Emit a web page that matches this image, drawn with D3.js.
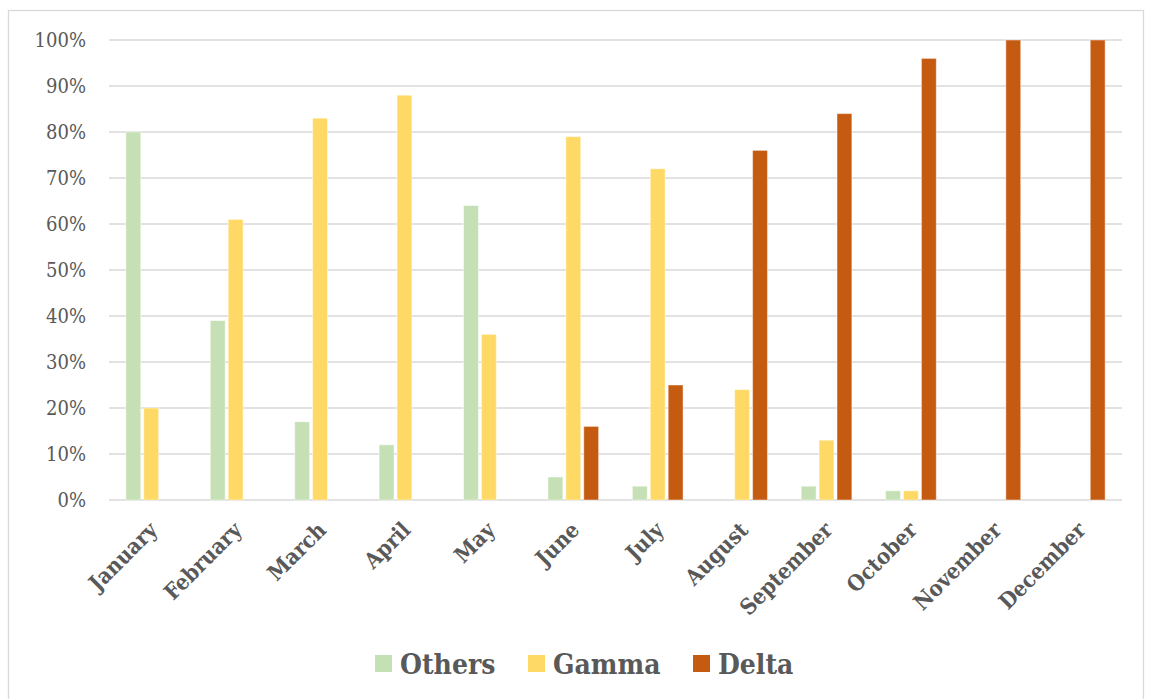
<!DOCTYPE html>
<meta charset="utf-8">
<style>
  body { margin: 0; background: #fff; }
  .grid line { stroke: #d9d9d9; stroke-width: 1.3; }
  .ylab text { font-family: "DejaVu Serif Condensed", "DejaVu Serif", serif; font-size: 20px; fill: #595959; }
  .xlab text { font-family: "DejaVu Serif Condensed", "DejaVu Serif", serif; font-weight: bold; font-size: 22px; fill: #595959; }
  .legend text { font-family: "DejaVu Serif Condensed", "DejaVu Serif", serif; font-weight: bold; font-size: 28px; fill: #595959; }
</style>
<svg width="1149" height="699"></svg>
<script src="https://cdn.jsdelivr.net/npm/d3@7"></script>
<script>
    // data
    var months = ['January', 'February', 'March', 'April', 'May', 'June',
        'July', 'August', 'September', 'October', 'November', 'December'];
    var series = ['Others', 'Gamma', 'Delta'];
    var others = [0.80, 0.39, 0.17, 0.12, 0.64, 0.05, 0.03, 0.00, 0.03, 0.02, 0.00, 0.00];
    var gamma  = [0.20, 0.61, 0.83, 0.88, 0.36, 0.79, 0.72, 0.24, 0.13, 0.02, 0.00, 0.00];
    var delta  = [0.00, 0.00, 0.00, 0.00, 0.00, 0.16, 0.25, 0.76, 0.84, 0.96, 1.00, 1.00];
    var yTicks = [0, 0.1, 0.2, 0.3, 0.4, 0.5, 0.6, 0.7, 0.8, 0.9, 1.0];
    var colors = ['#c5e0b4', '#ffd966', '#c55a11'];

    var svgElem = d3.select('svg');
    var margin = { left: 109, top: 40, right: 27, bottom: 199 };
    var width = +svgElem.attr('width') - margin.left - margin.right;
    var height = +svgElem.attr('height') - margin.top - margin.bottom;

    // outer frame
    svgElem.append('rect')
        .attr('x', 8.5).attr('y', 10.5)
        .attr('width', 1135).attr('height', 700)
        .attr('fill', 'none').attr('stroke', '#d9d9d9').attr('stroke-width', 1.3);

    var g = svgElem.append('g')
        .attr('transform', `translate(${margin.left}, ${margin.top})`);

    var x0 = d3.scaleBand().domain(months).range([0, width]).paddingInner(0.4).paddingOuter(0.2);
    var x1 = d3.scaleBand().domain(series).range([0, x0.bandwidth()]).paddingInner(0.17);
    var y = d3.scaleLinear().domain([0, 1]).range([height, 0]);
    var z = d3.scaleOrdinal().domain(series).range(colors);

    // gridlines
    g.append('g').attr('class', 'grid')
        .selectAll('line').data(yTicks).enter().append('line')
        .attr('x1', 0).attr('x2', width)
        .attr('y1', function (d) { return y(d); })
        .attr('y2', function (d) { return y(d); });

    // y labels
    g.append('g').attr('class', 'ylab')
        .selectAll('text').data(yTicks).enter().append('text')
        .attr('x', -23)
        .attr('y', function (d) { return y(d); })
        .attr('dy', '0.35em')
        .attr('text-anchor', 'end')
        .text(d3.format('.0%'));

    var rows = months.map(function (m, i) {
        return { month: m, Others: others[i], Gamma: gamma[i], Delta: delta[i] };
    });

    var groups = g.selectAll('.month').data(rows).enter().append('g')
        .attr('class', 'month')
        .attr('transform', function (d) { return `translate(${x0(d.month)}, 0)`; });

    groups.selectAll('rect')
        .data(function (d) {
            return series.map(function (k) { return { key: k, value: d[k] }; })
                .filter(function (s) { return s.value > 0; });
        })
        .enter().append('rect')
        .attr('x', function (d) { return x1(d.key); })
        .attr('width', x1.bandwidth())
        .attr('y', function (d) { return y(d.value); })
        .attr('height', function (d) { return height - y(d.value); })
        .attr('fill', function (d) { return z(d.key); })
        .attr('stroke', 'rgba(255,255,255,0.45)')
        .attr('stroke-width', 1);

    // x labels
    g.append('g').attr('class', 'xlab')
        .selectAll('text').data(months).enter().append('text')
        .attr('transform', function (d) {
            return `translate(${x0(d) + x0.bandwidth() / 2 + 2}, ${height + 26}) rotate(-45)`;
        })
        .attr('text-anchor', 'end')
        .attr('dy', '0.35em')
        .text(function (d) { return d; });

    // legend
    var legendX = [375, 528, 693];
    var legend = svgElem.append('g').attr('class', 'legend')
        .selectAll('g').data(series).enter().append('g')
        .attr('transform', function (d, i) { return `translate(${legendX[i]}, 655)`; });
    legend.append('rect')
        .attr('width', 17).attr('height', 17)
        .attr('fill', function (d) { return z(d); });
    legend.append('text')
        .attr('x', 25).attr('y', 19)
        .text(function (d) { return d; });
</script>
